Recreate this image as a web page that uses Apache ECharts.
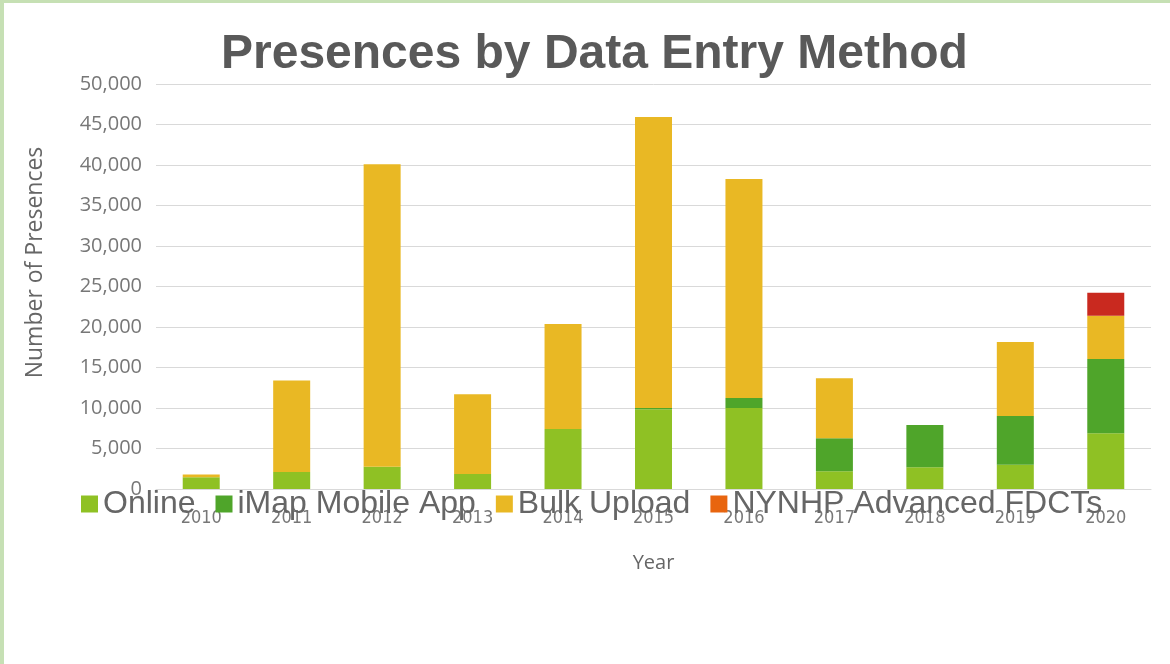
<!DOCTYPE html>
<html>
<head>
<meta charset="utf-8">
<script src="https://cdn.jsdelivr.net/npm/echarts@6/dist/echarts.min.js"></script>
<style>
html,body{margin:0;padding:0;background:#fff;}
#wrap{position:relative;width:1170px;height:664px;overflow:hidden;}
#chart{position:absolute;left:0;top:0;width:1170px;height:664px;}
.bl{position:absolute;left:0;top:0;width:4px;height:664px;background:#c6e0b4;}
.bt{position:absolute;left:0;top:0;width:1170px;height:3px;background:#c6e0b4;}
</style>
</head>
<body>
<div id="wrap"><div id="chart"></div><div class="bl"></div><div class="bt"></div></div>
<script>
const years = ['2010','2011','2012','2013','2014','2015','2016','2017','2018','2019','2020'];
const online = [1450, 2100, 2750, 1850, 7400, 9840, 10000, 2200, 2700, 3000, 6880];
const imap   = [0, 0, 0, 0, 0, 150, 1230, 4070, 5200, 6000, 9170];
const bulk   = [350, 11300, 37350, 9850, 12960, 35930, 27040, 7400, 0, 9150, 5350];
const fdcts  = [0, 0, 0, 0, 0, 0, 0, 0, 0, 0, 2840];
const seriesNames = ['Online', 'iMap Mobile App', 'Bulk Upload', 'NYNHP Advanced FDCTs'];

const chart = echarts.init(document.getElementById('chart'));
const mk = (name, data, color) => ({
  name, type: 'bar', stack: 'total', data, barWidth: 37,
  itemStyle: { color }, emphasis: { disabled: true }
});
chart.setOption({
  animation: false,
  backgroundColor: '#ffffff',
  title: {
    text: 'Presences by Data Entry Method',
    left: 216, top: 26,
    textStyle: { fontFamily: 'Liberation Sans', fontWeight: 'bold', fontSize: 48, color: '#595959' }
  },
  legend: {
    left: 76, top: 483,
    itemWidth: 17, itemHeight: 17, itemGap: 20,
    icon: 'rect',
    textStyle: { fontFamily: 'Liberation Sans', fontSize: 32, color: '#666666' },
    data: [
      { name: 'Online' },
      { name: 'iMap Mobile App' },
      { name: 'Bulk Upload' },
      { name: 'NYNHP Advanced FDCTs', itemStyle: { color: '#e8650f' } }
    ]
  },
  grid: { left: 156, right: 19, top: 84, bottom: 175, containLabel: false },
  xAxis: {
    type: 'category', data: years,
    name: 'Year', nameLocation: 'middle', nameGap: 64,
    nameTextStyle: { fontFamily: 'Open Sans', fontSize: 20, color: '#666666' },
    axisLine: { lineStyle: { color: '#d9d9d9' } },
    axisTick: { show: false },
    axisLabel: { fontFamily: 'DejaVu Sans Condensed, DejaVu Sans', fontSize: 18, color: '#777777', margin: 20 }
  },
  yAxis: {
    type: 'value', min: 0, max: 50000, interval: 5000,
    name: 'Number of Presences', nameLocation: 'middle', nameGap: 109,
    nameTextStyle: { fontFamily: 'Open Sans', fontSize: 23, color: '#666666', padding: [0, 0, 0, 48] },
    axisLine: { show: false }, axisTick: { show: false },
    splitLine: { lineStyle: { color: '#d9d9d9' } },
    axisLabel: {
      fontFamily: 'Open Sans', fontSize: 20, color: '#777777', margin: 14,
      formatter: v => v.toLocaleString('en-US')
    }
  },
  series: [
    mk(seriesNames[0], online, '#8fc124'),
    mk(seriesNames[1], imap, '#4fa52a'),
    mk(seriesNames[2], bulk, '#e9b824'),
    mk(seriesNames[3], fdcts, '#c9291f')
  ]
});
</script>
</body>
</html>
